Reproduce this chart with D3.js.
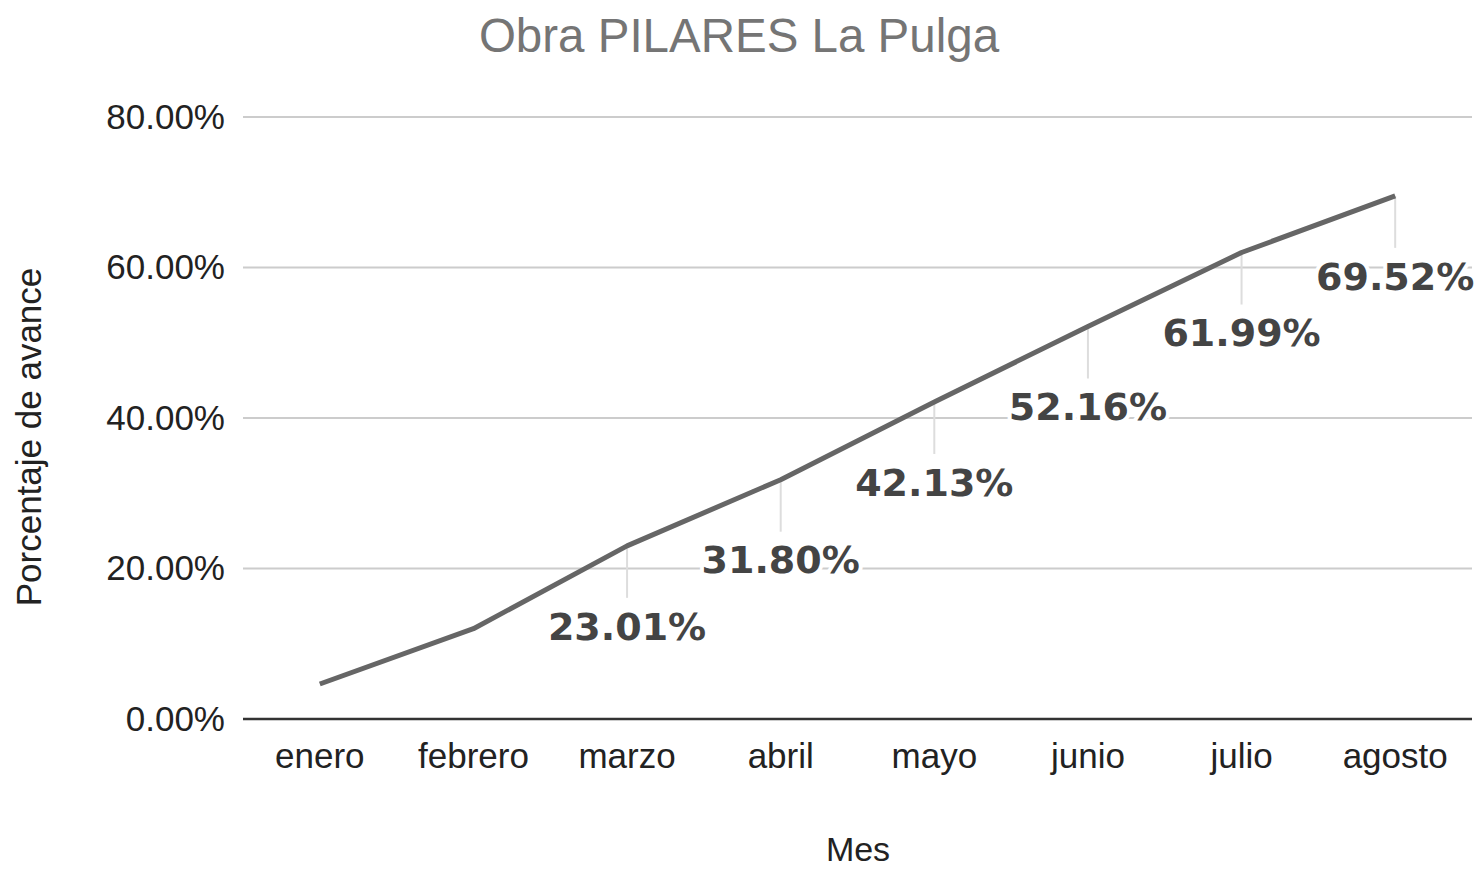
<!DOCTYPE html>
<html>
<head>
<meta charset="utf-8">
<script src="https://cdn.jsdelivr.net/npm/d3@7"></script>
<style>
  body { margin: 0; background: #fff; }
  text { font-family: "Liberation Sans", Arial, sans-serif; }
</style>
</head>
<body>
<script>
// datos
var meses = ["enero", "febrero", "marzo", "abril", "mayo", "junio", "julio", "agosto"];
var avance = [4.65, 12.0, 23.01, 31.80, 42.13, 52.16, 61.99, 69.52];
// meses con etiqueta de dato
var etiquetas = [null, null, "23.01%", "31.80%", "42.13%", "52.16%", "61.99%", "69.52%"];
var yTicks = [0, 20, 40, 60, 80];

var width = 1478;
var height = 871;
var margin = { top: 117, right: 6, bottom: 152, left: 243 };

var svg = d3.select("body")
    .append("svg")
    .attr("width", width)
    .attr("height", height);

var xScale = d3.scaleBand()
    .domain(meses)
    .range([margin.left, width - margin.right]);

var yScale = d3.scaleLinear()
    .domain([0, 80])
    .range([height - margin.bottom, margin.top]);

var cx = function(d, i) { return xScale(meses[i]) + xScale.bandwidth() / 2; };

// titulo
svg.append("text")
    .attr("x", 739)
    .attr("y", 52)
    .attr("text-anchor", "middle")
    .attr("font-size", 47.5)
    .attr("fill", "#757575")
    .text("Obra PILARES La Pulga");

// rejilla
svg.append("g")
    .selectAll("line")
    .data(yTicks.filter(function(t) { return t > 0; }))
    .enter()
    .append("line")
    .attr("x1", margin.left)
    .attr("x2", width - margin.right)
    .attr("y1", function(d) { return yScale(d); })
    .attr("y2", function(d) { return yScale(d); })
    .attr("stroke", "#cccccc")
    .attr("stroke-width", 2);

// eje y
var yAxis = d3.axisLeft(yScale)
    .tickValues(yTicks)
    .tickSize(0)
    .tickPadding(18)
    .tickFormat(function(d) { return d.toFixed(2) + "%"; });

var gy = svg.append("g")
    .attr("transform", "translate(" + margin.left + ",0)")
    .call(yAxis);
gy.select(".domain").remove();
gy.selectAll("text")
    .attr("font-size", 35)
    .attr("fill", "#222")
    .style("font-family", "'Liberation Sans', Arial, sans-serif");

// eje x
var xAxis = d3.axisBottom(xScale)
    .tickSize(0)
    .tickPadding(24);

var gx = svg.append("g")
    .attr("transform", "translate(0," + yScale(0) + ")")
    .call(xAxis);
gx.select(".domain").remove();
gx.selectAll("text")
    .attr("font-size", 35)
    .attr("fill", "#222")
    .style("font-family", "'Liberation Sans', Arial, sans-serif");

svg.append("line")
    .attr("x1", margin.left)
    .attr("x2", width - margin.right)
    .attr("y1", yScale(0))
    .attr("y2", yScale(0))
    .attr("stroke", "#333")
    .attr("stroke-width", 2.5);

// titulos de ejes
svg.append("text")
    .attr("x", 858)
    .attr("y", 861)
    .attr("text-anchor", "middle")
    .attr("font-size", 34)
    .attr("fill", "#222")
    .text("Mes");

svg.append("text")
    .attr("transform", "translate(41,437) rotate(-90)")
    .attr("text-anchor", "middle")
    .attr("font-size", 35)
    .attr("fill", "#222")
    .text("Porcentaje de avance");

// lineas guia de etiquetas
var conEtiqueta = avance.map(function(v, i) { return { v: v, i: i, t: etiquetas[i] }; })
    .filter(function(d) { return d.t; });

svg.append("g")
    .selectAll("line")
    .data(conEtiqueta)
    .enter()
    .append("line")
    .attr("x1", function(d) { return cx(d, d.i); })
    .attr("x2", function(d) { return cx(d, d.i); })
    .attr("y1", function(d) { return yScale(d.v); })
    .attr("y2", function(d) { return yScale(d.v) + 52; })
    .attr("stroke", "#dddddd")
    .attr("stroke-width", 2);

// linea
var line = d3.line()
    .x(function(d, i) { return cx(d, i); })
    .y(function(d) { return yScale(d); });

svg.append("path")
    .datum(avance)
    .attr("d", line)
    .attr("fill", "none")
    .attr("stroke", "#666666")
    .attr("stroke-width", 5)
    .attr("stroke-linejoin", "round");

// etiquetas de datos
var lab = svg.append("g")
    .selectAll("g")
    .data(conEtiqueta)
    .enter()
    .append("g")
    .attr("transform", function(d) { return "translate(" + cx(d, d.i) + "," + (yScale(d.v) + 80) + ")"; });

lab.append("text")
    .attr("text-anchor", "middle")
    .attr("dy", "0.36em")
    .attr("font-size", 38)
    .attr("font-weight", "bold")
    .attr("fill", "#444444")
    .attr("stroke", "#ffffff")
    .attr("stroke-width", 8)
    .attr("paint-order", "stroke")
    .style("font-family", "'DejaVu Sans', Verdana, sans-serif")
    .text(function(d) { return d.t; });
</script>
</body>
</html>
